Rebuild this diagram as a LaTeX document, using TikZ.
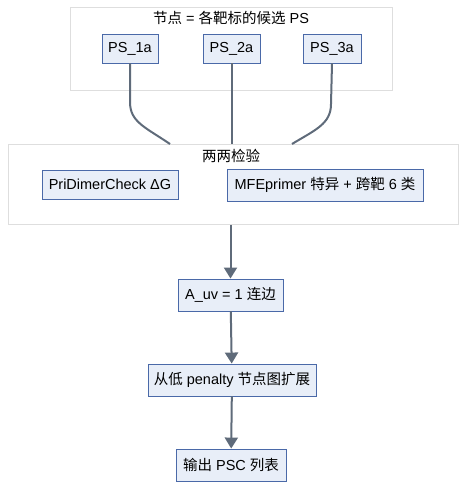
\documentclass[tikz,border=0pt]{standalone}
\usepackage{fontspec}
\setmainfont{Liberation Sans}
\newfontfamily\cjk{Noto Sans CJK SC}
\usetikzlibrary{arrows.meta}

\definecolor{boxfill}{HTML}{E8EEF8}
\definecolor{boxline}{HTML}{4A69A8}
\definecolor{edgeline}{HTML}{5F6B7A}
\definecolor{clusterline}{HTML}{DEDEDE}

\begin{document}
\begin{tikzpicture}[x=1pt,y=-1pt,font=\fontsize{14.5}{17}\selectfont]
	\tikzstyle{ps_box} = [draw=boxline, fill=boxfill, line width=0.9pt, inner sep=0pt, minimum height=29pt]
	\tikzstyle{cluster} = [draw=clusterline, fill=white, line width=0.9pt]
	\tikzstyle{link} = [draw=edgeline, line width=2pt]
	\tikzstyle{flow} = [link, -{Triangle[length=11pt,width=13pt]}]

	\useasboundingbox (0,0) rectangle (474,498);

%------------------------------------------------------------
	\node[cluster, minimum width=322pt, minimum height=83pt] (nodes) at (231,48.5) {};
	\node (nodes_title) at (231,18) {{\cjk 节点} = {\cjk 各靶标的候选} PS};

	\node[ps_box, minimum width=56pt] (ps1) at (130,48.5) {PS\_1a};
	\node[ps_box, minimum width=57pt] (ps2) at (231.5,48.5) {PS\_2a};
	\node[ps_box, minimum width=58pt] (ps3) at (332,48.5) {PS\_3a};

%------------------------------------------------------------

	\node[cluster, minimum width=450pt, minimum height=80pt] (check) at (233,184.5) {};
	\node (check_title) at (231,156) {\cjk 两两检验};

	\node[ps_box, minimum width=136pt] (dimer) at (110,184.5) {PriDimerCheck ΔG};
	\node[ps_box, minimum width=196pt, minimum height=32pt] (mfe) at (325,185) {MFEprimer {\cjk 特异} + {\cjk 跨靶} 6 {\cjk 类}};

%------------------------------------------------------------

	\coordinate (c1) at (170,144);
	\coordinate (c2) at (231.5,144);
	\coordinate (c3) at (292,144);

	\draw[link] (ps1.south) -- (130,102) .. controls (130,122) and (145,127) .. (c1);
	\draw[link] (ps2.south) -- (c2);
	\draw[link] (ps3.south) -- (331,104) .. controls (331,124) and (315,130) .. (c3);

%------------------------------------------------------------

	\node[ps_box, minimum width=105pt, minimum height=32pt] (edge) at (230.5,295) {A\_uv = 1 {\cjk 连边}};
	\node[ps_box, minimum width=168pt, minimum height=32pt] (expand) at (232,380) {{\cjk 从低} penalty {\cjk 节点图扩展}};
	\node[ps_box, minimum width=110pt, minimum height=32pt] (output) at (231,465) {{\cjk 输出} PSC {\cjk 列表}};

	\draw[flow] (check.south -| edge) -- (edge);
	\draw[flow] (edge) -- (expand);
	\draw[flow] (expand) -- (output);

\end{tikzpicture}
\end{document}
